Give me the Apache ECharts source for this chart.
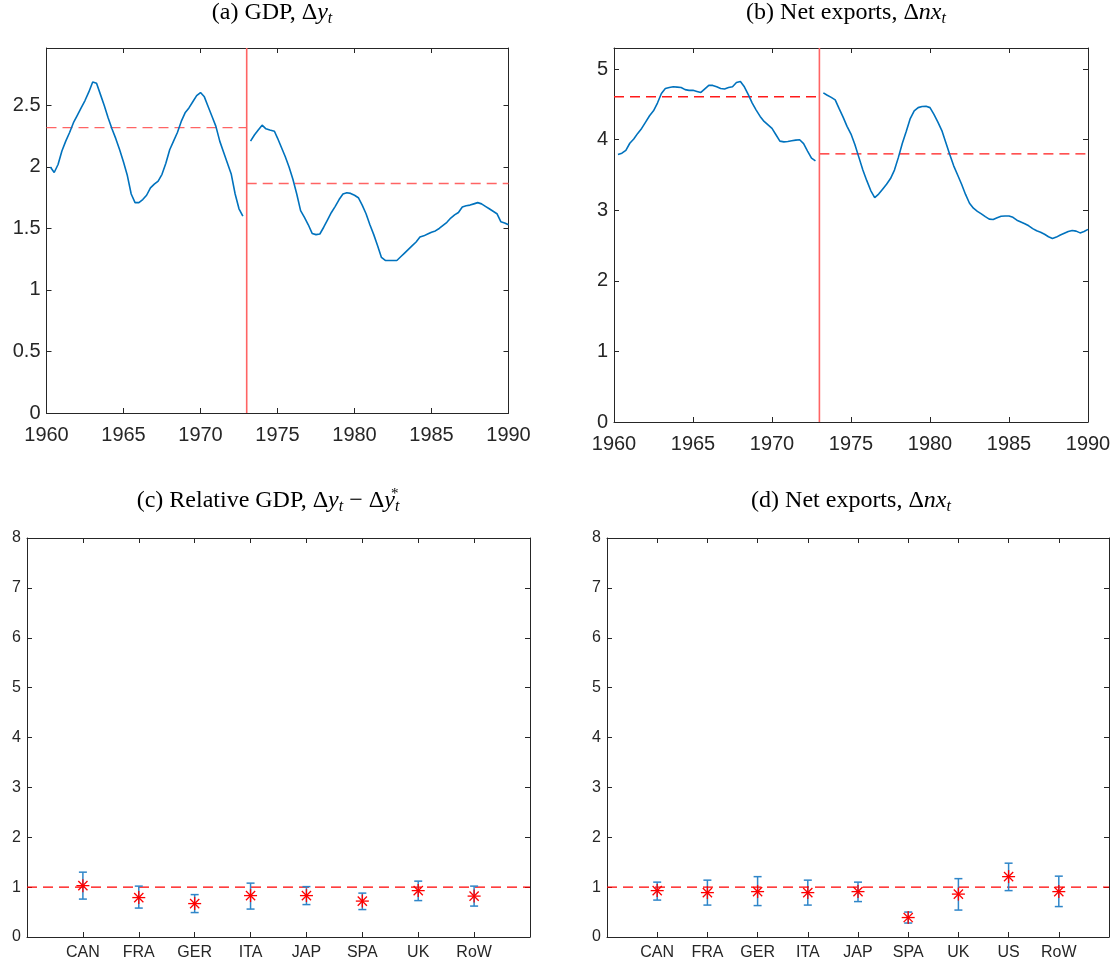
<!DOCTYPE html>
<html><head><meta charset="utf-8">
<script src="https://cdn.jsdelivr.net/npm/echarts@6/dist/echarts.min.js"></script>
<style>html,body{margin:0;padding:0;background:#fff}#c{width:1117px;height:965px}</style>
</head><body><div id="c"></div>
<script>
// ---- data ----
const breakYear = 1973;
const yearTicks = [1960, 1990, 5];
const gdpPre = [[1960.25,2.00],[1960.5,1.955],[1960.75,2.02],[1961.0,2.13],[1961.25,2.21],[1961.5,2.28],[1961.75,2.36],[1962.0,2.42],[1962.25,2.48],[1962.5,2.54],[1962.75,2.61],[1963.0,2.69],[1963.25,2.68],[1963.5,2.59],[1963.75,2.50],[1964.0,2.40],[1964.25,2.31],[1964.5,2.23],[1964.75,2.14],[1965.0,2.04],[1965.25,1.93],[1965.5,1.78],[1965.75,1.71],[1966.0,1.71],[1966.25,1.735],[1966.5,1.77],[1966.75,1.83],[1967.0,1.86],[1967.25,1.885],[1967.5,1.94],[1967.75,2.03],[1968.0,2.14],[1968.25,2.21],[1968.5,2.28],[1968.75,2.37],[1969.0,2.44],[1969.25,2.48],[1969.5,2.53],[1969.75,2.58],[1970.0,2.605],[1970.25,2.57],[1970.5,2.49],[1970.75,2.41],[1971.0,2.33],[1971.25,2.21],[1971.5,2.12],[1971.75,2.03],[1972.0,1.94],[1972.25,1.78],[1972.5,1.66],[1972.75,1.60]];
const gdpPost = [[1973.25,2.21],[1973.5,2.26],[1973.75,2.30],[1974.0,2.34],[1974.25,2.31],[1974.5,2.30],[1974.8,2.29],[1975.0,2.235],[1975.25,2.16],[1975.5,2.085],[1975.75,2.00],[1976.0,1.90],[1976.25,1.78],[1976.5,1.645],[1976.75,1.59],[1977.0,1.53],[1977.25,1.46],[1977.5,1.45],[1977.75,1.455],[1978.0,1.51],[1978.25,1.57],[1978.5,1.63],[1978.75,1.68],[1979.0,1.735],[1979.25,1.78],[1979.5,1.79],[1979.75,1.785],[1980.0,1.77],[1980.25,1.75],[1980.5,1.69],[1980.75,1.62],[1981.0,1.53],[1981.25,1.45],[1981.5,1.36],[1981.75,1.265],[1982.0,1.24],[1982.25,1.24],[1982.5,1.24],[1982.75,1.24],[1983.0,1.27],[1983.25,1.30],[1983.5,1.33],[1983.75,1.36],[1984.0,1.39],[1984.25,1.43],[1984.5,1.44],[1984.75,1.455],[1985.0,1.47],[1985.25,1.48],[1985.5,1.50],[1985.75,1.525],[1986.0,1.55],[1986.25,1.585],[1986.5,1.61],[1986.75,1.63],[1987.0,1.675],[1987.25,1.685],[1987.5,1.69],[1987.75,1.70],[1988.0,1.71],[1988.25,1.70],[1988.5,1.68],[1988.75,1.66],[1989.0,1.64],[1989.25,1.62],[1989.5,1.555],[1989.75,1.545],[1990.0,1.53]];
const gdpMean = [2.32, 1.866];
const nxPre = [[1960.25,3.79],[1960.5,3.81],[1960.75,3.85],[1961.0,3.95],[1961.25,4.01],[1961.5,4.09],[1961.75,4.16],[1962.0,4.25],[1962.25,4.34],[1962.5,4.41],[1962.75,4.52],[1963.0,4.655],[1963.25,4.725],[1963.5,4.74],[1963.75,4.75],[1964.0,4.745],[1964.25,4.74],[1964.5,4.71],[1964.75,4.70],[1965.0,4.70],[1965.25,4.685],[1965.5,4.67],[1965.75,4.72],[1966.0,4.77],[1966.25,4.77],[1966.5,4.75],[1966.75,4.725],[1967.0,4.72],[1967.25,4.74],[1967.5,4.75],[1967.75,4.81],[1968.0,4.825],[1968.25,4.75],[1968.5,4.64],[1968.75,4.52],[1969.0,4.42],[1969.25,4.33],[1969.5,4.26],[1969.75,4.21],[1970.0,4.16],[1970.25,4.07],[1970.5,3.98],[1970.75,3.97],[1971.0,3.975],[1971.25,3.985],[1971.5,3.995],[1971.75,4.0],[1972.0,3.945],[1972.25,3.84],[1972.5,3.74],[1972.75,3.70]];
const nxPost = [[1973.25,4.665],[1973.5,4.63],[1973.75,4.60],[1974.0,4.565],[1974.25,4.44],[1974.5,4.32],[1974.75,4.19],[1975.0,4.08],[1975.25,3.93],[1975.5,3.75],[1975.75,3.57],[1976.0,3.42],[1976.25,3.28],[1976.5,3.18],[1976.75,3.23],[1977.0,3.30],[1977.25,3.37],[1977.5,3.45],[1977.75,3.57],[1978.0,3.75],[1978.25,3.95],[1978.5,4.12],[1978.75,4.30],[1979.0,4.41],[1979.25,4.455],[1979.5,4.47],[1979.75,4.475],[1980.0,4.455],[1980.25,4.36],[1980.5,4.25],[1980.75,4.13],[1981.0,3.96],[1981.25,3.79],[1981.5,3.63],[1981.75,3.50],[1982.0,3.37],[1982.25,3.225],[1982.5,3.10],[1982.75,3.03],[1983.0,2.985],[1983.25,2.95],[1983.5,2.91],[1983.75,2.875],[1984.0,2.87],[1984.25,2.895],[1984.5,2.915],[1984.75,2.92],[1985.0,2.92],[1985.25,2.90],[1985.5,2.86],[1985.75,2.835],[1986.0,2.81],[1986.25,2.78],[1986.5,2.74],[1986.75,2.71],[1987.0,2.69],[1987.25,2.66],[1987.5,2.625],[1987.75,2.60],[1988.0,2.62],[1988.25,2.65],[1988.5,2.675],[1988.75,2.70],[1989.0,2.715],[1989.25,2.705],[1989.5,2.68],[1989.75,2.70],[1990.0,2.73]];
const nxMean = [4.61, 3.80];

const catsC = ['CAN','FRA','GER','ITA','JAP','SPA','UK','RoW'];
const estC  = [1.03,0.79,0.67,0.83,0.83,0.72,0.93,0.82];
const lowC  = [0.76,0.58,0.49,0.56,0.65,0.55,0.73,0.62];
const highC = [1.30,1.02,0.85,1.08,1.01,0.88,1.12,1.02];

const catsD = ['CAN','FRA','GER','ITA','JAP','SPA','UK','US','RoW'];
const estD  = [0.93,0.89,0.91,0.89,0.91,0.39,0.86,1.21,0.91];
const lowD  = [0.74,0.64,0.63,0.64,0.71,0.28,0.54,0.93,0.61];
const highD = [1.10,1.14,1.21,1.14,1.10,0.50,1.17,1.48,1.22];
const refLevel = 1;

// ---- styling ----
const AX = '#262626';
const BLUE = '#0072BD';
const SANS = 'Liberation Sans';
const SERIF = 'Liberation Serif';

const grids = [
  {left: 46.5, top: 48, width: 462, height: 365},
  {left: 614, top: 48, width: 474, height: 374},
  {left: 27, top: 538, width: 503, height: 399},
  {left: 607, top: 538, width: 502, height: 399}
];

function valX(gi, show) {
  return {type:'value', gridIndex: gi, position: show ? 'bottom':'top',
    min: yearTicks[0], max: yearTicks[1], interval: yearTicks[2],
    axisLine:{show:true, onZero:false, lineStyle:{color:AX, width:1}},
    axisTick:{show:true, inside:true, length:5, lineStyle:{color:AX}},
    splitLine:{show:false},
    axisLabel:{show:show, color:AX, fontFamily:SANS, fontSize:20, margin:12, formatter:v=>String(v)}};
}
function valY(gi, show, max, interval) {
  return {type:'value', gridIndex: gi, position: show ? 'left':'right',
    min: 0, max: max, interval: interval,
    axisLine:{show:true, onZero:false, lineStyle:{color:AX, width:1}},
    axisTick:{show:true, inside:true, length:5, lineStyle:{color:AX}},
    splitLine:{show:false},
    axisLabel:{show:show, color:AX, fontFamily:SANS, fontSize:show && gi<2 ? 20 : 16, margin:6, showMaxLabel: gi>=2,
      formatter: v => String(+v.toFixed(2))}};
}
function catX(gi, show, cats) {
  return {type:'category', gridIndex: gi, position: show ? 'bottom':'top',
    data: [''].concat(cats, ['']), boundaryGap:false,
    axisLine:{show:true, onZero:false, lineStyle:{color:AX, width:1}},
    axisTick:{show:true, inside:true, length:5, interval:0, lineStyle:{color:AX}},
    splitLine:{show:false},
    axisLabel:{show:show, interval:0, color:AX, fontFamily:SANS, fontSize:16, margin:8}};
}

const xAxis = [valX(0,true), valX(0,false), valX(1,true), valX(1,false),
  catX(2,true,catsC), catX(2,false,catsC), catX(3,true,catsD), catX(3,false,catsD)];
const yAxis = [valY(0,true,2.967,0.5), valY(0,false,2.967,0.5), valY(1,true,5.3,1), valY(1,false,5.3,1),
  valY(2,true,8,1), valY(2,false,8,1), valY(3,true,8,1), valY(3,false,8,1)];

function lineSeries(ai, data, color, width, dash) {
  return {type:'line', xAxisIndex: ai, yAxisIndex: ai, data: data, showSymbol:false, symbol:'none',
    lineStyle:{color:color, width:width, type: dash || 'solid'}, z: dash ? 3 : 4, silent:true};
}

function timePanel(ai, pre, post, mean, ymax, dashColor) {
  const lastX = post[post.length-1][0];
  return [
    lineSeries(ai, [[breakYear,0],[breakYear,ymax]], '#ff6464', 1.6),
    lineSeries(ai, [[yearTicks[0],mean[0]],[breakYear,mean[0]]], dashColor, 1.4, [10,6]),
    lineSeries(ai, [[breakYear,mean[1]],[lastX,mean[1]]], dashColor, 1.4, [10,6]),
    lineSeries(ai, pre, BLUE, 1.6),
    lineSeries(ai, post, BLUE, 1.6)
  ];
}

function errSeries(ai, cats, est, low, high) {
  const data = cats.map((c,i) => [i+1, low[i], high[i], est[i]]);
  return {type:'custom', xAxisIndex: ai, yAxisIndex: ai, data: data, z: 5, silent:true,
    encode:{x:0, y:[1,2,3]},
    renderItem: function(params, api) {
      const x = api.value(0);
      const lo = api.coord([x, api.value(1)]);
      const hi = api.coord([x, api.value(2)]);
      const md = api.coord([x, api.value(3)]);
      const cw = 4, r = 6.5, d = 4.6;
      const bs = {stroke: '#2f86c9', lineWidth: 1.5};
      const ss = {stroke: '#ff0000', lineWidth: 1.3};
      const L = (x1,y1,x2,y2,s) => ({type:'line', shape:{x1,y1,x2,y2}, style:s});
      return {type:'group', children:[
        L(lo[0],lo[1],hi[0],hi[1],bs),
        L(lo[0]-cw,lo[1],lo[0]+cw,lo[1],bs),
        L(hi[0]-cw,hi[1],hi[0]+cw,hi[1],bs),
        L(md[0]-r,md[1],md[0]+r,md[1],ss),
        L(md[0],md[1]-r,md[0],md[1]+r,ss),
        L(md[0]-d,md[1]-d,md[0]+d,md[1]+d,ss),
        L(md[0]-d,md[1]+d,md[0]+d,md[1]-d,ss)
      ]};
    }};
}
function refSeries(ai, n) {
  return lineSeries(ai, [[0, refLevel],[n+1, refLevel]], '#ff0000', 1.3, [10,6]);
}

const series = [].concat(
  timePanel(0, gdpPre, gdpPost, gdpMean, 2.967, '#ff6464'),
  timePanel(2, nxPre, nxPost, nxMean, 5.3, '#ff1a1a'),
  [refSeries(4, catsC.length), errSeries(4, catsC, estC, lowC, highC)],
  [refSeries(6, catsD.length), errSeries(6, catsD, estD, lowD, highD)]
);

const FS = 24;
const base = {fontFamily:SERIF, fontWeight:'normal', color:'#000'};
const rich = {
  n:Object.assign({}, base, {fontSize:FS, lineHeight:28}),
  m:Object.assign({}, base, {fontSize:FS, lineHeight:28}),
  i:Object.assign({}, base, {fontSize:FS, fontStyle:'italic', lineHeight:28}),
  s:Object.assign({}, base, {fontSize:16, fontStyle:'italic', lineHeight:15, verticalAlign:'bottom'}),
  p:Object.assign({}, base, {fontSize:15, lineHeight:14, verticalAlign:'top', width:0.1, align:'left'})
};
function mkTitle(text, cx, top) {
  return {text:text, left:cx, top:top, textAlign:'center', padding:0,
    textStyle:{fontWeight:'normal', fontFamily:SERIF, rich:rich}};
}
const title = [
  mkTitle('{n|(a) GDP, }{m|Δ}{i|y}{s|t}', 272, -1),
  mkTitle('{n|(b) Net exports, }{m|Δ}{i|nx}{s|t}', 846, -1),
  mkTitle('{n|(c) Relative GDP, }{m|Δ}{i|y}{s|t}{n| − }{m|Δ}{i|y}{p|*}{s|t}', 268, 487),
  mkTitle('{n|(d) Net exports, }{m|Δ}{i|nx}{s|t}', 851, 487)
];

const chart = echarts.init(document.getElementById('c'), null, {renderer:'canvas'});
chart.setOption({animation:false, backgroundColor:'#fff', title, grid:grids, xAxis, yAxis, series});
</script></body></html>
